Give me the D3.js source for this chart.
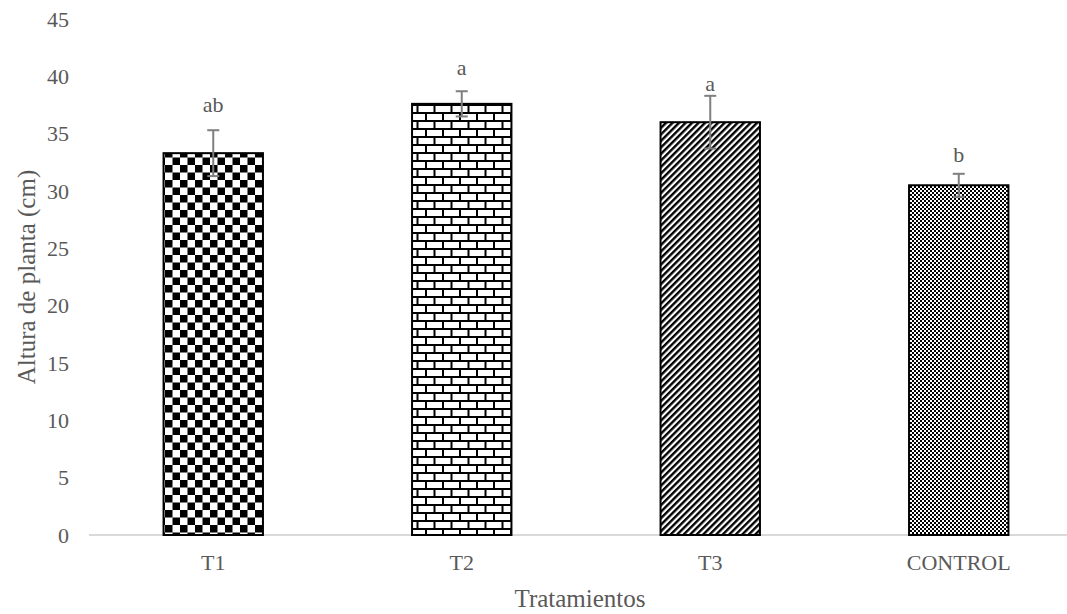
<!DOCTYPE html>
<html>
<head>
<meta charset="utf-8">
<script src="https://cdn.jsdelivr.net/npm/d3@7"></script>
<style>
  body { margin: 0; background: #fff; }
  text { font-family: "Liberation Serif", "Times New Roman", serif; fill: #595959; }
</style>
</head>
<body>
<svg id="chart" width="1067" height="614"></svg>
<script>
// small stand-in for d3-selection-multi's .attrs()
d3.selection.prototype.attrs = function(obj) {
  Object.keys(obj).forEach(k => this.attr(k, obj[k]));
  return this;
};

let categories = ["T1", "T2", "T3", "CONTROL"],
  heights = [33.3, 37.6, 36.0, 30.5],
  errors = [2.0, 1.1, 2.3, 1.0],
  letters = ["ab", "a", "a", "b"],
  letter_y = [36.9, 40.1, 38.7, 32.5],
  y_ticks = [0, 5, 10, 15, 20, 25, 30, 35, 40, 45],
  patterns = ["checker", "brick", "diag", "fine"];

let width = 1067,
  height = 614,
  margins = {left: 89, top: 19, bottom: 79};

let svg = d3.select("#chart");

let x = d3.scaleBand()
  .domain(categories)
  .range([margins.left, 1083])
  .paddingInner(0.6)
  .paddingOuter(0.3);

let y = d3.scaleLinear()
  .domain([0, 45])
  .range([height - margins.bottom, margins.top]);

// fill patterns
let defs = svg.append("defs");

let p1 = defs.append("pattern").attrs({id: "checker", width: 15, height: 15, patternUnits: "userSpaceOnUse", x: 0, y: 0});
p1.append("rect").attrs({width: 15, height: 15, fill: "#fff"});
p1.append("rect").attrs({x: 0, y: 0, width: 7.5, height: 7.5, fill: "#000"});
p1.append("rect").attrs({x: 7.5, y: 7.5, width: 7.5, height: 7.5, fill: "#000"});

let p2 = defs.append("pattern").attrs({id: "brick", width: 17, height: 16, patternUnits: "userSpaceOnUse"});
p2.append("rect").attrs({width: 17, height: 16, fill: "#fff"});
p2.append("rect").attrs({x: 0, y: 0, width: 17, height: 2, fill: "#000"});
p2.append("rect").attrs({x: 0, y: 8, width: 17, height: 2, fill: "#000"});
p2.append("rect").attrs({x: 0, y: 0, width: 2, height: 8, fill: "#000"});
p2.append("rect").attrs({x: 8.5, y: 8, width: 2, height: 8, fill: "#000"});

let p3 = defs.append("pattern").attrs({id: "diag", width: 4.6, height: 4.6, patternUnits: "userSpaceOnUse", patternTransform: "rotate(45)"});
p3.append("rect").attrs({width: 4.6, height: 4.6, fill: "#fff"});
p3.append("rect").attrs({x: 0, y: 0, width: 2.4, height: 4.6, fill: "#000"});

let p4 = defs.append("pattern").attrs({id: "fine", width: 4, height: 4, patternUnits: "userSpaceOnUse"});
p4.append("rect").attrs({width: 4, height: 4, fill: "#fff"});
p4.append("rect").attrs({x: 0, y: 0, width: 2, height: 2, fill: "#000"});
p4.append("rect").attrs({x: 2, y: 2, width: 2, height: 2, fill: "#000"});

// y tick labels
svg.append("g")
  .selectAll("text")
  .data(y_ticks).enter()
  .append("text")
  .attrs({x: 69, y: d => y(d), "text-anchor": "end", dy: "0.35em", "font-size": 22})
  .text(d => d);

// baseline
svg.append("line")
  .attrs({x1: margins.left, x2: width, y1: y(0), y2: y(0), stroke: "#d9d9d9", "stroke-width": 2});

// bars
let data = categories.map((c, i) => ({cat: c, h: heights[i], e: errors[i], l: letters[i], ly: letter_y[i], p: patterns[i]}));

svg.append("g")
  .selectAll("rect")
  .data(data).enter()
  .append("rect")
  .attrs({
    x: d => x(d.cat),
    y: d => y(d.h),
    width: x.bandwidth(),
    height: d => y(0) - y(d.h),
    fill: d => `url(#${d.p})`,
    stroke: "#000",
    "stroke-width": 2
  });

// error bars
let err = svg.append("g").attr("stroke", "#7f7f7f").attr("stroke-width", 2);
data.forEach(d => {
  let cx = x(d.cat) + x.bandwidth() / 2;
  err.append("line").attrs({x1: cx, x2: cx, y1: y(d.h - d.e), y2: y(d.h + d.e)});
  err.append("line").attrs({x1: cx - 6, x2: cx + 6, y1: y(d.h - d.e), y2: y(d.h - d.e)});
  err.append("line").attrs({x1: cx - 6, x2: cx + 6, y1: y(d.h + d.e), y2: y(d.h + d.e)});
});

// significance letters
svg.append("g")
  .selectAll("text")
  .data(data).enter()
  .append("text")
  .attrs({x: d => x(d.cat) + x.bandwidth() / 2, y: d => y(d.ly), "text-anchor": "middle", "font-size": 22})
  .text(d => d.l);

// x tick labels
svg.append("g")
  .selectAll("text")
  .data(categories).enter()
  .append("text")
  .attrs({x: d => x(d) + x.bandwidth() / 2, y: 570, "text-anchor": "middle", "font-size": 22})
  .text(d => d);

// axis titles
svg.append("text")
  .attrs({x: 580, y: 607, "text-anchor": "middle", "font-size": 25})
  .text("Tratamientos");
svg.append("text")
  .attrs({transform: `translate(35, ${(y(0) + y(45)) / 2}) rotate(-90)`, "text-anchor": "middle", "font-size": 25})
  .text("Altura de planta (cm)");
</script>
</body>
</html>
